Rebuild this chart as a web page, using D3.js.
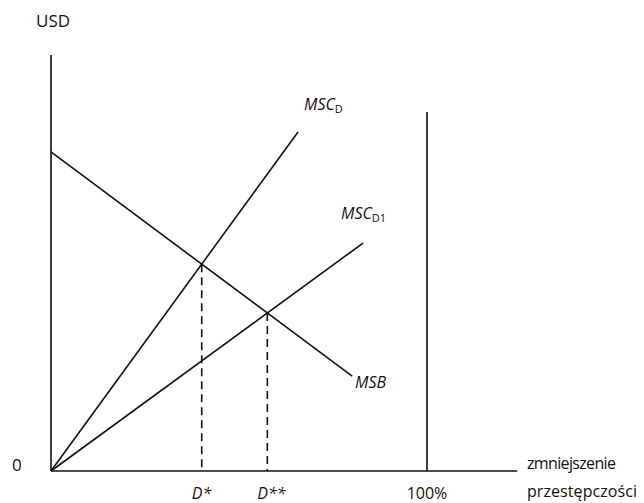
<!DOCTYPE html>
<html><head><meta charset="utf-8">
<script src="https://cdn.jsdelivr.net/npm/d3@7"></script>
<style>body{margin:0;background:#fff}svg{display:block}text{font-family:"Open Sans","Noto Sans",sans-serif;fill:#111}</style>
</head><body><svg id="c" width="644" height="503"></svg>
<script>
// Data (x: % reduction of crime, y: USD, arbitrary units)
const xAxisMax = 124, yAxisMax = 100;
const fullLine = {x: 100, yTop: 86.3};
const curves = [
  {name: "MSB", x0: 0, y0: 76.7, x1: 80.1, y1: 22.8},
  {name: "MSC_D", x0: 0, y0: 0, x1: 65.7, y1: 81.5},
  {name: "MSC_D1", x0: 0, y0: 0, x1: 83.0, y1: 54.8}
];
const tickLabels = [{label: "D*", pair: ["MSB","MSC_D"]}, {label: "D**", pair: ["MSB","MSC_D1"]}];

const svg = d3.select("#c");
const x = d3.scaleLinear().domain([0, 100]).range([51, 427]);
const y = d3.scaleLinear().domain([0, 100]).range([471, 55]);

function lineOf(c){ const m=(c.y1-c.y0)/(c.x1-c.x0); return {m, b:c.y0-m*c.x0}; }
function intersect(a,b){ const la=lineOf(a), lb=lineOf(b); const xi=(lb.b-la.b)/(la.m-lb.m); return {x:xi, y:la.m*xi+la.b}; }
const byName = Object.fromEntries(curves.map(c=>[c.name,c]));

const g = svg.append("g").attr("stroke","#111").attr("stroke-width",1.6).attr("fill","none");
// axes
g.append("line").attr("x1",x(0)).attr("y1",y(0)).attr("x2",x(0)).attr("y2",y(yAxisMax));
g.append("line").attr("x1",x(0)).attr("y1",y(0)).attr("x2",x(xAxisMax)).attr("y2",y(0));
g.append("line").attr("x1",x(fullLine.x)).attr("y1",y(0)).attr("x2",x(fullLine.x)).attr("y2",y(fullLine.yTop));
// curves
g.selectAll("line.curve").data(curves).join("line").attr("class","curve")
  .attr("x1",d=>x(d.x0)).attr("y1",d=>y(d.y0)).attr("x2",d=>x(d.x1)).attr("y2",d=>y(d.y1));
// dashed drops
const pts = tickLabels.map(t=>({label:t.label, ...intersect(byName[t.pair[0]], byName[t.pair[1]])}));
g.selectAll("line.drop").data(pts).join("line").attr("class","drop")
  .attr("stroke-dasharray","8,5")
  .attr("x1",d=>x(d.x)).attr("y1",d=>y(d.y)).attr("x2",d=>x(d.x)).attr("y2",y(0));

// text
const fs = 16;
svg.append("text").attr("x",36).attr("y",27).attr("font-size",17).text("USD");
svg.append("text").attr("x",12).attr("y",471).attr("font-size",17).text("0");
svg.selectAll("text.tick").data(pts).join("text").attr("class","tick")
  .attr("x",d=>x(d.x)-10).attr("y",499).attr("font-size",fs).attr("font-style","italic").text(d=>d.label);
svg.append("text").attr("x",x(100)).attr("y",499).attr("font-size",fs).attr("text-anchor","middle").text("100%");
svg.append("text").attr("x",527).attr("y",469).attr("font-size",fs).attr("textLength",89).text("zmniejszenie");
svg.append("text").attr("x",527).attr("y",497).attr("font-size",fs).attr("textLength",110).text("przestępczości");

function sublabel(xp, yp, main, sub){
  const t = svg.append("text").attr("x",xp).attr("y",yp).attr("font-size",fs).attr("font-style","italic");
  t.append("tspan").text(main);
  t.append("tspan").attr("font-style","normal").attr("font-size",11).attr("dy",3).text(sub);
}
sublabel(304, 110, "MSC", "D");
sublabel(341, 219, "MSC", "D1");
svg.append("text").attr("x",355).attr("y",388).attr("font-size",fs).attr("font-style","italic").text("MSB");
</script></body></html>
